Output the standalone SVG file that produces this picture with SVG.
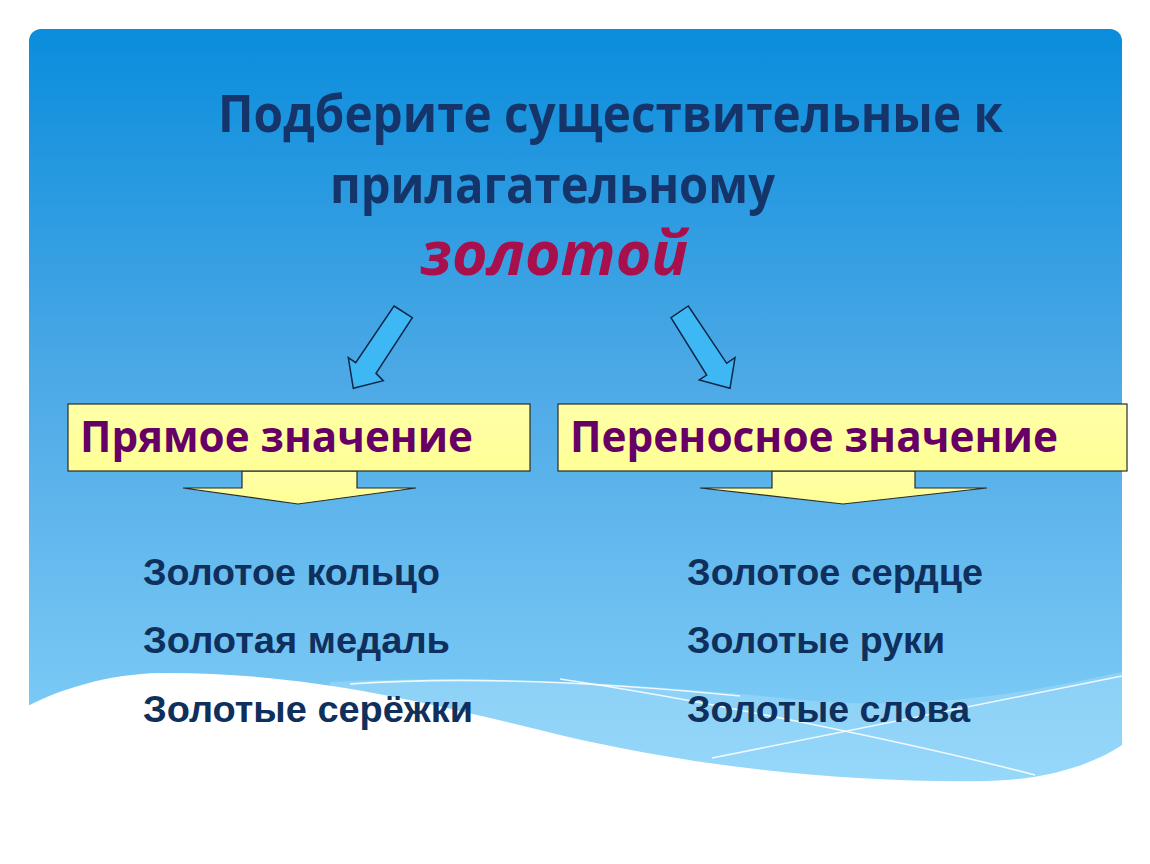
<svg xmlns="http://www.w3.org/2000/svg" width="1150" height="864" viewBox="0 0 1150 864">
<defs>
<linearGradient id="bg" x1="0" y1="0" x2="0" y2="1">
<stop offset="0" stop-color="#0A8DDC"/>
<stop offset="0.45" stop-color="#4DA9E6"/>
<stop offset="1" stop-color="#88D3FA"/>
</linearGradient>
<linearGradient id="yel" x1="0" y1="0" x2="0" y2="1">
<stop offset="0" stop-color="#FFFFA8"/>
<stop offset="1" stop-color="#FFFF96"/>
</linearGradient>
<style>
.title{font-family:"Open Sans","Noto Sans",sans-serif;font-weight:bold;fill:#15356A;font-size:52px}
.adj{font-family:"Open Sans","Noto Sans",sans-serif;font-weight:bold;font-style:italic;fill:#A8104C;font-size:60px}
.hdr{font-family:"Open Sans","Noto Sans",sans-serif;font-weight:bold;fill:#660066;font-size:43px}
.item{font-family:"Liberation Sans",Arial,sans-serif;font-weight:bold;fill:#0F2F5C;font-size:37px}
.box{fill:url(#yel);stroke:#2B2B2B;stroke-width:1.2}
.barrow{fill:url(#yel);stroke:#2B2B2B;stroke-width:1.2}
.blue{fill:#3DB8F5;stroke:#0E2747;stroke-width:1.5;stroke-linejoin:miter}
.wl{fill:none;stroke:#FFFFFF;stroke-width:1.6;opacity:0.85}
</style>
</defs>
<rect width="1150" height="864" fill="#FFFFFF"/>
<g id="background">
<rect x="29" y="29" width="1093" height="780" rx="12" fill="url(#bg)"/>
<path d="M330 682 C480 674 650 684 800 700 C930 712 1040 690 1122 672 L1122 864 L330 864 Z" fill="#B8E5FB" opacity="0.35"/>
<path d="M20 710 C60 688 110 674 160 673 C300 672 420 700 560 735 C700 768 850 783 985 781 C1050 780 1095 763 1122 745 L1130 745 L1130 864 L20 864 Z" fill="#FFFFFF"/>
<path class="wl" d="M350 684 C480 675 620 684 740 696"/>
<path class="wl" d="M712 758 L1122 676"/>
<path class="wl" d="M560 679 C700 700 900 740 1035 775"/>
</g>
<g id="title">
<text class="title" x="218" y="132" textLength="785" lengthAdjust="spacingAndGlyphs">Подберите существительные к</text>
<text class="title" x="330" y="203" textLength="445" lengthAdjust="spacingAndGlyphs">прилагательному</text>
<text class="adj" x="420" y="275" textLength="268" lengthAdjust="spacingAndGlyphs">золотой</text>
</g>
<g id="connectors">
<polygon class="blue" points="394,306 412.3,317.7 376,373.3 383.3,380.7 353.3,388.3 348.3,357.7 355.7,362.7"/>
<polygon class="blue" points="688.3,306 726.7,363.3 735,357.7 730,388.3 699.3,380 706.7,375 671,317.7"/>
<polygon class="barrow" points="242,471 357,471 357,488 416,488 298,504 183,488 242,488"/>
<polygon class="barrow" points="772,471 915,471 915,488 987,488 843,504 700,488 772,488"/>
</g>
<g id="node-direct">
<rect class="box" x="68" y="404" width="462" height="67"/>
<text class="hdr" x="80" y="452" textLength="393" lengthAdjust="spacingAndGlyphs">Прямое значение</text>
</g>
<g id="node-figurative">
<rect class="box" x="558" y="404" width="569" height="67"/>
<text class="hdr" x="570" y="452" textLength="488" lengthAdjust="spacingAndGlyphs">Переносное значение</text>
</g>
<g id="list-direct">
<text class="item" x="143" y="585" textLength="297" lengthAdjust="spacingAndGlyphs">Золотое  кольцо</text>
<text class="item" x="143" y="653" textLength="307" lengthAdjust="spacingAndGlyphs">Золотая  медаль</text>
<text class="item" x="143" y="722" textLength="330" lengthAdjust="spacingAndGlyphs">Золотые  серёжки</text>
</g>
<g id="list-figurative">
<text class="item" x="687" y="585" textLength="296" lengthAdjust="spacingAndGlyphs">Золотое  сердце</text>
<text class="item" x="687" y="653" textLength="258" lengthAdjust="spacingAndGlyphs">Золотые  руки</text>
<text class="item" x="687" y="722" textLength="283" lengthAdjust="spacingAndGlyphs">Золотые  слова</text>
</g>
</svg>
